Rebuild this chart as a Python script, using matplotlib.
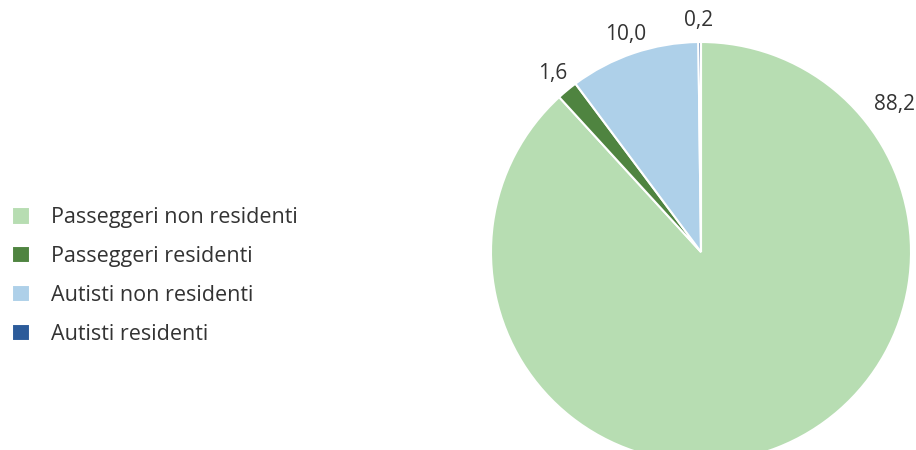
import matplotlib
matplotlib.use("Agg")
import matplotlib.pyplot as plt

plt.rcParams["font.family"] = ["Open Sans", "DejaVu Sans"]

categories = ["Passeggeri non residenti", "Passeggeri residenti",
              "Autisti non residenti", "Autisti residenti"]
values = [88.2, 1.6, 10.0, 0.2]
value_labels = ["88,2", "1,6", "10,0", "0,2"]
colors = ["#b7ddb2", "#4f8440", "#aed0e9", "#2c5b9a"]

# label anchor points in pie data units (unit circle)
label_pos = [(0.92, 0.70), (-0.705, 0.85), (-0.36, 1.035), (-0.01, 1.10)]

fig = plt.figure(figsize=(9.16, 4.5), dpi=100)
ax = fig.add_axes([491 / 916, -12 / 450, 420 / 916, 420 / 450])

wedges, _ = ax.pie(values, colors=colors, startangle=90, counterclock=False,
                   radius=1.0, wedgeprops=dict(edgecolor="white", linewidth=1.5))
ax.set_xlim(-1, 1)
ax.set_ylim(-1, 1)
ax.set_aspect("equal")
ax.axis("off")

for txt, (x, y) in zip(value_labels, label_pos):
    ax.text(x, y, txt, ha="center", va="center", fontsize=15, color="#333333",
            clip_on=False)

fig.legend(wedges, categories, loc="center left",
           bbox_to_anchor=(12 / 916, (450 - 276) / 450),
           frameon=False, fontsize=15.5, labelcolor="#333333",
           borderaxespad=0, borderpad=0,
           handlelength=0.85, handleheight=0.85, handletextpad=0.95,
           labelspacing=0.82)

fig.savefig("out.png", dpi=100)
